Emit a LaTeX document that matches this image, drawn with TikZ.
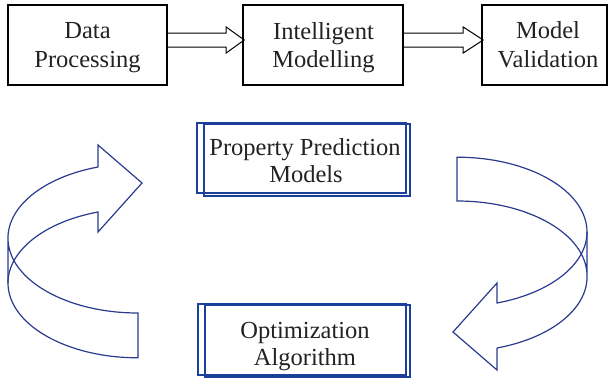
\documentclass[tikz,border=0pt]{standalone}
\usepackage{fontspec}
\setmainfont{Liberation Serif}
\definecolor{navy}{HTML}{2A3A8E}
\definecolor{frameblue}{HTML}{1C3E9C}
\definecolor{ink}{HTML}{222222}
\begin{document}
\begin{tikzpicture}[x=1pt,y=-1pt,
  topbox/.style={draw=black, line width=2.4pt, minimum height=80pt, inner sep=0pt},
  framebox/.style={draw=frameblue, line width=2pt, inner sep=0pt},
  txt/.style={anchor=base, inner sep=0pt, text=ink, font=\fontsize{24.5}{29}\selectfont},
  blockarrow/.style={draw=black, line width=1pt, line join=miter},
  loopline/.style={draw=navy, line width=1.2pt, line join=miter},
  er/.style={x radius=130pt, y radius=74.8pt}]
\useasboundingbox (0,0) rectangle (608,380);

% process chain
\node[topbox, minimum width=159pt] (b1) at (87.5,45) {};
\node[topbox, minimum width=160pt] (b2) at (323,45) {};
\node[topbox, minimum width=125pt] (b3) at (544.5,45) {};
\node[txt] (t1a) at (87.5,38) {Data};
\node[txt] (t1b) at (87.5,67) {Processing};
\node[txt] (t2a) at (323.5,39) {Intelligent};
\node[txt] (t2b) at (323.5,67) {Modelling};
\node[txt] (t3a) at (548,38) {Model};
\node[txt] (t3b) at (548,67) {Validation};

\draw[blockarrow] (b1.east) ++(0,-12) -- ++(58,0) -- ++(0,-6) -- ++(18,13)
  -- ++(-18,13) -- ++(0,-6) -- ++(-58,0);
\draw[blockarrow] (b2.east) ++(0,-12) -- ++(59,0) -- ++(0,-6) -- ++(20,13)
  -- ++(-20,13) -- ++(0,-6) -- ++(-59,0);

% framed boxes of the optimisation loop
\node[framebox, minimum width=209pt, minimum height=70pt] (p1) at (301.5,158) {};
\node[framebox, minimum width=206pt, minimum height=72pt] (p2) at (307,160) {};
\node[txt] (pa) at (305,155) {Property Prediction};
\node[txt] (pb) at (306,182) {Models};

\node[framebox, minimum width=208pt, minimum height=71pt] (o1) at (302,339.5) {};
\node[framebox, minimum width=205pt, minimum height=72pt] (o2) at (307.5,341) {};
\node[txt] (oa) at (305,338) {Optimization};
\node[txt] (ob) at (305,365) {Algorithm};

% left curved arrow: from the algorithm up to the models
\draw[loopline] (98,167) arc[start angle=107.9, end angle=180, er]
  -- (8,283) arc[start angle=180, end angle=270, er]
  -- (138,313) arc[start angle=270, end angle=180, er];
\draw[loopline] (98,167) -- (98,145) -- (142,183) -- (98,232) -- (98,212)
  arc[start angle=107.9, end angle=180, er];

% right curved arrow: from the models down to the algorithm
\draw[loopline] (497,348) arc[start angle=287.9, end angle=360, er]
  -- (587,232) arc[start angle=0, end angle=90, er]
  -- (457,201) arc[start angle=90, end angle=0, er];
\draw[loopline] (497,348) -- (497,370) -- (453,332) -- (497,283) -- (497,303)
  arc[start angle=287.9, end angle=360, er];
\end{tikzpicture}
\end{document}
